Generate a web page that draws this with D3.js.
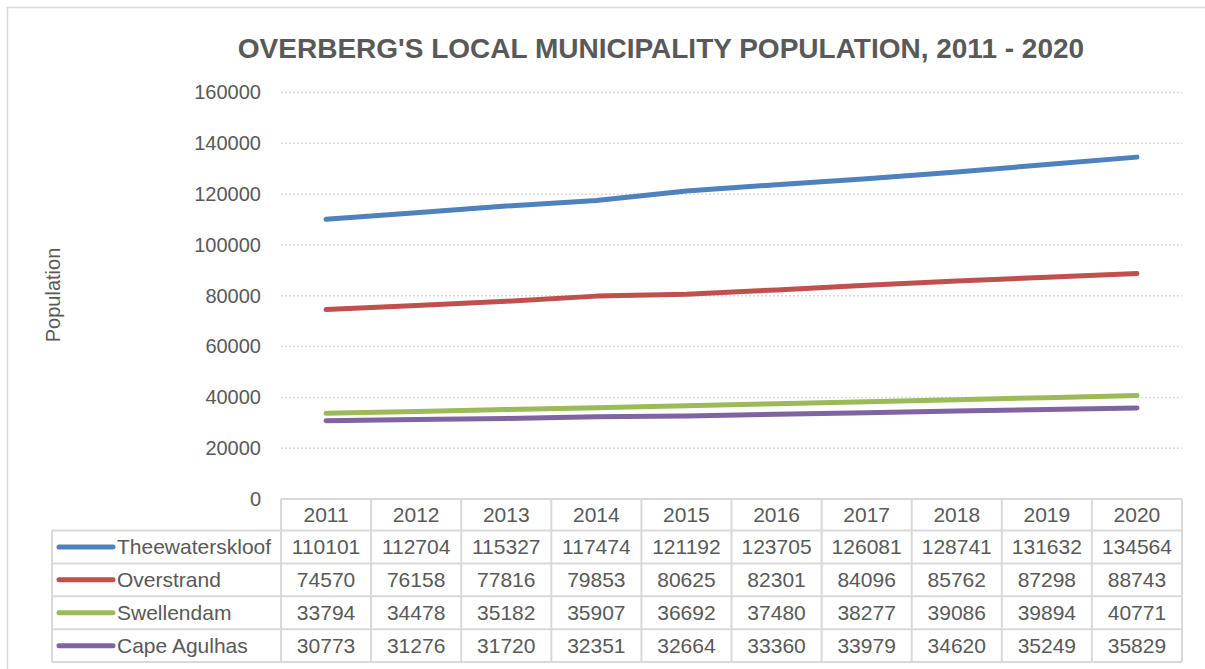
<!DOCTYPE html>
<html>
<head>
<meta charset="utf-8">
<script src="https://cdn.jsdelivr.net/npm/d3@7"></script>
<style>
  body { margin: 0; background: #fff; }
  svg { display: block; font-family: "Liberation Sans", Arial, sans-serif; }
</style>
</head>
<body>
<svg id="chart"></svg>
<script>
// Data
const years = ["2011", "2012", "2013", "2014", "2015", "2016", "2017", "2018", "2019", "2020"];
const seriesNames = ["Theewaterskloof", "Overstrand", "Swellendam", "Cape Agulhas"];
const theewaterskloof = [110101, 112704, 115327, 117474, 121192, 123705, 126081, 128741, 131632, 134564];
const overstrand = [74570, 76158, 77816, 79853, 80625, 82301, 84096, 85762, 87298, 88743];
const swellendam = [33794, 34478, 35182, 35907, 36692, 37480, 38277, 39086, 39894, 40771];
const capeAgulhas = [30773, 31276, 31720, 32351, 32664, 33360, 33979, 34620, 35249, 35829];
const yTicks = [0, 20000, 40000, 60000, 80000, 100000, 120000, 140000, 160000];

const colors = ["#4F81BD", "#C0504D", "#9BBB59", "#8064A2"];
const series = [theewaterskloof, overstrand, swellendam, capeAgulhas].map((values, i) => ({
  name: seriesNames[i], values, color: colors[i]
}));

const width = 1205, height = 669;
const textColor = "#595959";
const gridColor = "#D9D9D9";

const svg = d3.select("#chart").attr("width", width).attr("height", height);

// outer chart border (runs off the bottom/right of the picture)
svg.append("rect")
  .attr("x", 7.5).attr("y", 7.5)
  .attr("width", width).attr("height", height + 20)
  .attr("fill", "none").attr("stroke", gridColor).attr("stroke-width", 1.5);

// plot area
const plotLeft = 281, plotRight = 1182, plotTop = 92.5, plotBottom = 499;

const x = d3.scaleBand().domain(years).range([plotLeft, plotRight]);
const y = d3.scaleLinear().domain([0, 160000]).range([plotBottom, plotTop]);

// title
svg.append("text")
  .attr("x", 661).attr("y", 58)
  .attr("text-anchor", "middle")
  .attr("font-size", 28).attr("font-weight", "bold")
  .attr("fill", textColor)
  .text("OVERBERG'S LOCAL MUNICIPALITY POPULATION, 2011 - 2020");

// gridlines (dotted)
svg.append("g")
  .selectAll("line")
  .data(yTicks.filter(d => d > 0))
  .join("line")
  .attr("x1", plotLeft).attr("x2", plotRight)
  .attr("y1", d => y(d)).attr("y2", d => y(d))
  .attr("stroke", gridColor).attr("stroke-width", 1.5)
  .attr("stroke-dasharray", "2,2");

// y axis labels
const yAxis = svg.append("g")
  .attr("transform", `translate(${plotLeft}, 0)`)
  .call(d3.axisLeft(y).tickValues(yTicks).tickFormat(d3.format("d")).tickSize(0).tickPadding(20));
yAxis.select(".domain").remove();
yAxis.selectAll("text")
  .attr("font-size", 20).attr("fill", textColor)
  .attr("font-family", "Liberation Sans, Arial, sans-serif");

// y axis title
svg.append("text")
  .attr("transform", "translate(60, 295) rotate(-90)")
  .attr("text-anchor", "middle")
  .attr("font-size", 20).attr("fill", textColor)
  .text("Population");

// lines
const line = d3.line()
  .x((d, i) => x(years[i]) + x.bandwidth() / 2)
  .y(d => y(d));

svg.append("g")
  .selectAll("path")
  .data(series)
  .join("path")
  .attr("d", d => line(d.values))
  .attr("fill", "none")
  .attr("stroke", d => d.color)
  .attr("stroke-width", 5)
  .attr("stroke-linecap", "round")
  .attr("stroke-linejoin", "round");

// data table
const headerH = 31.5, rowH = 32.9;
const legendLeft = 52;
const tableFont = 21;
const table = svg.append("g");
const tableBottom = plotBottom + headerH + rowH * series.length;

// horizontal lines
table.append("line")
  .attr("x1", plotLeft).attr("x2", plotRight).attr("y1", plotBottom).attr("y2", plotBottom)
  .attr("stroke", gridColor).attr("stroke-width", 2);
table.selectAll("line.row")
  .data(d3.range(series.length + 1))
  .join("line").attr("class", "row")
  .attr("x1", legendLeft).attr("x2", plotRight)
  .attr("y1", i => plotBottom + headerH + i * rowH)
  .attr("y2", i => plotBottom + headerH + i * rowH)
  .attr("stroke", gridColor).attr("stroke-width", 2);

// vertical lines
table.selectAll("line.col")
  .data(years.concat(["end"]))
  .join("line").attr("class", "col")
  .attr("x1", d => d === "end" ? plotRight : x(d))
  .attr("x2", d => d === "end" ? plotRight : x(d))
  .attr("y1", plotBottom).attr("y2", tableBottom)
  .attr("stroke", gridColor).attr("stroke-width", 2);
table.append("line")
  .attr("x1", legendLeft).attr("x2", legendLeft)
  .attr("y1", plotBottom + headerH).attr("y2", tableBottom)
  .attr("stroke", gridColor).attr("stroke-width", 2);

// header years
table.selectAll("text.year")
  .data(years)
  .join("text").attr("class", "year")
  .attr("x", d => x(d) + x.bandwidth() / 2)
  .attr("y", plotBottom + headerH / 2 + 7.5)
  .attr("text-anchor", "middle")
  .attr("font-size", tableFont).attr("fill", textColor)
  .text(d => d);

// rows
const rows = table.selectAll("g.rowg")
  .data(series)
  .join("g").attr("class", "rowg")
  .attr("transform", (d, i) => `translate(0, ${plotBottom + headerH + i * rowH})`);

rows.append("line")
  .attr("x1", 59).attr("x2", 113)
  .attr("y1", rowH / 2).attr("y2", rowH / 2)
  .attr("stroke", d => d.color).attr("stroke-width", 5)
  .attr("stroke-linecap", "round");

rows.append("text")
  .attr("x", 117).attr("y", rowH / 2 + 7.5)
  .attr("font-size", tableFont).attr("fill", textColor)
  .text(d => d.name);

rows.selectAll("text.val")
  .data(d => d.values)
  .join("text").attr("class", "val")
  .attr("x", (d, i) => x(years[i]) + x.bandwidth() / 2)
  .attr("y", rowH / 2 + 7.5)
  .attr("text-anchor", "middle")
  .attr("font-size", tableFont).attr("fill", textColor)
  .text(d => d);
</script>
</body>
</html>
